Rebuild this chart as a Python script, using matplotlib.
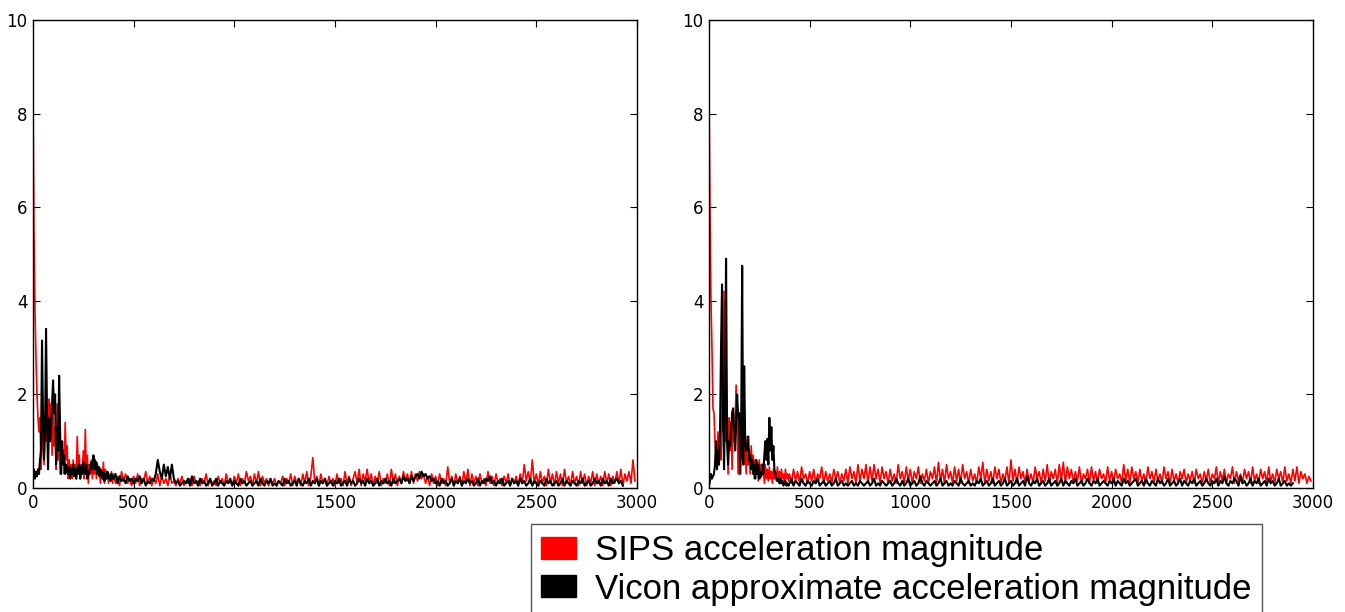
import numpy as np
import matplotlib
matplotlib.use('Agg')
import matplotlib.pyplot as plt
from matplotlib.patches import Patch

# samples 0..395 every 5, then every 10 from 400 on
head_step = 5
tail_step = 10
tail_start = 400

# left run
left_sips_head = [8.5, 5.5, 3.8, 2.8, 2.0, 1.5, 1.2, 1.5, 0.4, 0.9,
                  1.3, 0.5, 1.6, 1.0, 1.5, 0.8, 1.9, 1.2, 1.8, 0.7,
                  1.6, 0.9, 1.3, 0.4, 1.8, 0.6, 1.0, 0.3, 0.9, 0.5,
                  0.8, 0.3, 1.4, 0.6, 0.9, 0.2, 0.6, 0.3, 0.5, 0.2,
                  0.6, 0.3, 0.5, 0.2, 1.1, 0.4, 0.7, 0.2, 0.5, 0.3,
                  0.8, 0.2, 1.25, 0.4, 0.7, 0.1, 0.5, 0.3, 0.6, 0.2,
                  0.5, 0.3, 0.6, 0.2, 0.5, 0.3, 0.45, 0.1, 0.4, 0.2,
                  0.55, 0.1, 0.4, 0.2, 0.35, 0.1, 0.3, 0.15, 0.35, 0.1]
left_sips_tail = [0.3, 0.1, 0.25, 0.05, 0.35, 0.15, 0.3, 0.1, 0.2, 0.05,
                  0.25, 0.1, 0.3, 0.05, 0.2, 0.15, 0.35, 0.1, 0.25, 0.05,
                  0.2, 0.1, 0.3, 0.05, 0.25, 0.1, 0.2, 0.05, 0.3, 0.1,
                  0.15, 0.05, 0.2, 0.1, 0.25, 0.05, 0.15, 0.1, 0.2, 0.05,
                  0.25, 0.1, 0.15, 0.05, 0.2, 0.1, 0.3, 0.05, 0.2, 0.1,
                  0.15, 0.05, 0.25, 0.1, 0.2, 0.05, 0.3, 0.1, 0.15, 0.05,
                  0.25, 0.1, 0.3, 0.05, 0.2, 0.1, 0.35, 0.15, 0.25, 0.05,
                  0.3, 0.1, 0.35, 0.05, 0.25, 0.1, 0.2, 0.05, 0.15, 0.1,
                  0.2, 0.05, 0.15, 0.1, 0.25, 0.05, 0.2, 0.1, 0.3, 0.05,
                  0.25, 0.1, 0.2, 0.05, 0.3, 0.1, 0.35, 0.05, 0.25, 0.65,
                  0.1, 0.25, 0.05, 0.3, 0.1, 0.2, 0.05, 0.25, 0.1, 0.2,
                  0.05, 0.3, 0.1, 0.2, 0.05, 0.35, 0.1, 0.25, 0.05, 0.2,
                  0.35, 0.1, 0.4, 0.05, 0.3, 0.15, 0.4, 0.1, 0.3, 0.05,
                  0.25, 0.1, 0.35, 0.05, 0.2, 0.1, 0.3, 0.05, 0.4, 0.1,
                  0.3, 0.05, 0.25, 0.1, 0.35, 0.15, 0.3, 0.1, 0.35, 0.1,
                  0.3, 0.15, 0.35, 0.2, 0.3, 0.1, 0.25, 0.05, 0.3, 0.1,
                  0.25, 0.05, 0.3, 0.1, 0.2, 0.05, 0.45, 0.1, 0.25, 0.05,
                  0.3, 0.1, 0.25, 0.05, 0.35, 0.1, 0.4, 0.05, 0.3, 0.1,
                  0.25, 0.05, 0.3, 0.1, 0.2, 0.05, 0.35, 0.1, 0.25, 0.05,
                  0.3, 0.1, 0.2, 0.05, 0.25, 0.1, 0.3, 0.05, 0.2, 0.1,
                  0.25, 0.05, 0.3, 0.1, 0.5, 0.15, 0.35, 0.1, 0.6, 0.1,
                  0.3, 0.05, 0.35, 0.1, 0.25, 0.05, 0.4, 0.1, 0.3, 0.05,
                  0.35, 0.1, 0.3, 0.05, 0.4, 0.1, 0.25, 0.05, 0.35, 0.1,
                  0.25, 0.05, 0.35, 0.1, 0.3, 0.05, 0.25, 0.1, 0.35, 0.05,
                  0.3, 0.1, 0.25, 0.05, 0.35, 0.1, 0.3, 0.05, 0.25, 0.1,
                  0.35, 0.1, 0.4, 0.05, 0.3, 0.15, 0.35, 0.1, 0.6, 0.15]
left_vicon_head = [0.3, 0.4, 0.2, 0.35, 0.25, 0.4, 0.3, 0.6, 0.8, 3.15,
                   1.5, 0.6, 1.2, 3.4, 1.5, 0.4, 1.5, 1.0, 1.3, 1.8,
                   2.3, 1.6, 2.0, 0.5, 1.3, 0.8, 2.4, 1.2, 0.3, 1.0,
                   0.5, 0.7, 0.3, 0.5, 0.35, 0.3, 0.45, 0.2, 0.4, 0.3,
                   0.5, 0.25, 0.4, 0.2, 0.45, 0.3, 0.5, 0.2, 0.45, 0.3,
                   0.55, 0.35, 0.3, 0.5, 0.2, 0.35, 0.3, 0.5, 0.55, 0.4,
                   0.7, 0.6, 0.4, 0.55, 0.3, 0.45, 0.25, 0.4, 0.3, 0.2,
                   0.35, 0.15, 0.3, 0.2, 0.35, 0.2, 0.25, 0.15, 0.3, 0.2]
left_vicon_tail = [0.2, 0.3, 0.1, 0.25, 0.15, 0.2, 0.1, 0.25, 0.15, 0.2,
                   0.1, 0.2, 0.15, 0.25, 0.1, 0.2, 0.05, 0.15, 0.1, 0.2,
                   0.15, 0.3, 0.6, 0.35, 0.2, 0.5, 0.25, 0.45, 0.2, 0.5,
                   0.2, 0.1, 0.15, 0.05, 0.1, 0.15, 0.1, 0.2, 0.05, 0.25,
                   0.1, 0.15, 0.05, 0.2, 0.1, 0.15, 0.05, 0.1, 0.2, 0.05,
                   0.1, 0.2, 0.05, 0.15, 0.1, 0.05, 0.15, 0.1, 0.2, 0.05,
                   0.15, 0.1, 0.05, 0.2, 0.1, 0.15, 0.05, 0.1, 0.15, 0.05,
                   0.1, 0.15, 0.05, 0.2, 0.1, 0.05, 0.15, 0.1, 0.2, 0.05,
                   0.1, 0.05, 0.15, 0.1, 0.05, 0.2, 0.1, 0.15, 0.05, 0.1,
                   0.15, 0.05, 0.2, 0.1, 0.05, 0.15, 0.1, 0.2, 0.05, 0.15,
                   0.1, 0.2, 0.05, 0.15, 0.1, 0.2, 0.05, 0.1, 0.15, 0.05,
                   0.15, 0.1, 0.2, 0.05, 0.1, 0.15, 0.05, 0.2, 0.1, 0.15,
                   0.05, 0.1, 0.2, 0.1, 0.15, 0.05, 0.2, 0.1, 0.15, 0.05,
                   0.1, 0.2, 0.05, 0.15, 0.1, 0.2, 0.1, 0.15, 0.05, 0.2,
                   0.1, 0.15, 0.2, 0.1, 0.25, 0.15, 0.2, 0.1, 0.25, 0.15,
                   0.25, 0.3, 0.2, 0.35, 0.25, 0.3, 0.2, 0.25, 0.15, 0.2,
                   0.1, 0.15, 0.05, 0.2, 0.1, 0.15, 0.05, 0.1, 0.2, 0.05,
                   0.15, 0.1, 0.2, 0.05, 0.15, 0.1, 0.2, 0.1, 0.15, 0.05,
                   0.1, 0.2, 0.05, 0.15, 0.1, 0.2, 0.15, 0.25, 0.1, 0.15,
                   0.05, 0.15, 0.1, 0.2, 0.05, 0.1, 0.15, 0.05, 0.2, 0.1,
                   0.15, 0.05, 0.2, 0.1, 0.15, 0.05, 0.1, 0.2, 0.05, 0.15,
                   0.1, 0.05, 0.15, 0.1, 0.05, 0.2, 0.1, 0.15, 0.05, 0.1,
                   0.15, 0.05, 0.1, 0.2, 0.05, 0.15, 0.1, 0.05, 0.15, 0.1,
                   0.05, 0.15, 0.1, 0.2, 0.05, 0.1, 0.15, 0.05, 0.1, 0.2,
                   0.1, 0.15, 0.05, 0.2, 0.1, 0.15, 0.05, 0.2, 0.1, 0.15,
                   0.2, 0.1, 0.15, 0.05]

# right run
right_sips_head = [8.5, 6.0, 4.0, 3.0, 1.7, 1.6, 1.0, 0.7, 0.5, 1.2,
                   0.5, 1.3, 0.6, 2.3, 1.2, 4.2, 1.0, 2.5, 1.5, 0.3,
                   1.5, 0.8, 1.4, 0.4, 1.7, 1.0, 1.4, 2.2, 1.5, 0.3,
                   1.6, 0.4, 1.0, 0.6, 1.0, 0.5, 0.9, 0.3, 1.1, 0.5,
                   0.8, 0.3, 0.9, 0.4, 0.7, 0.2, 0.6, 0.3, 0.55, 0.15,
                   0.6, 0.2, 0.5, 0.3, 0.45, 0.1, 0.5, 0.2, 0.4, 0.15,
                   0.45, 0.2, 0.35, 0.1, 0.4, 0.2, 0.35, 0.15, 0.45, 0.2,
                   0.35, 0.15, 0.4, 0.2, 0.3, 0.15, 0.4, 0.2, 0.3, 0.15]
right_sips_tail = [0.3, 0.1, 0.4, 0.15, 0.35, 0.1, 0.45, 0.2, 0.3, 0.1,
                   0.35, 0.15, 0.4, 0.1, 0.3, 0.2, 0.45, 0.1, 0.35, 0.15,
                   0.3, 0.1, 0.4, 0.2, 0.35, 0.1, 0.3, 0.15, 0.4, 0.1,
                   0.45, 0.2, 0.35, 0.1, 0.5, 0.15, 0.4, 0.2, 0.5, 0.1,
                   0.45, 0.15, 0.5, 0.2, 0.4, 0.1, 0.45, 0.2, 0.35, 0.1,
                   0.4, 0.15, 0.3, 0.1, 0.5, 0.2, 0.35, 0.1, 0.45, 0.15,
                   0.4, 0.1, 0.35, 0.2, 0.45, 0.1, 0.3, 0.15, 0.4, 0.1,
                   0.35, 0.2, 0.45, 0.1, 0.55, 0.15, 0.4, 0.1, 0.5, 0.2,
                   0.35, 0.1, 0.45, 0.15, 0.4, 0.1, 0.5, 0.2, 0.35, 0.1,
                   0.4, 0.15, 0.3, 0.1, 0.45, 0.2, 0.55, 0.1, 0.4, 0.15,
                   0.35, 0.1, 0.45, 0.2, 0.4, 0.1, 0.3, 0.15, 0.45, 0.1,
                   0.6, 0.15, 0.4, 0.1, 0.45, 0.2, 0.35, 0.1, 0.4, 0.15,
                   0.3, 0.1, 0.45, 0.2, 0.35, 0.1, 0.4, 0.15, 0.5, 0.1,
                   0.35, 0.2, 0.4, 0.1, 0.5, 0.15, 0.55, 0.1, 0.45, 0.2,
                   0.4, 0.1, 0.35, 0.15, 0.45, 0.1, 0.3, 0.2, 0.4, 0.1,
                   0.45, 0.15, 0.35, 0.1, 0.4, 0.2, 0.3, 0.1, 0.45, 0.15,
                   0.35, 0.1, 0.4, 0.2, 0.3, 0.1, 0.5, 0.15, 0.4, 0.1,
                   0.45, 0.2, 0.35, 0.1, 0.4, 0.15, 0.3, 0.1, 0.45, 0.2,
                   0.35, 0.1, 0.4, 0.15, 0.3, 0.1, 0.45, 0.2, 0.35, 0.1,
                   0.4, 0.15, 0.3, 0.1, 0.35, 0.2, 0.4, 0.1, 0.3, 0.15,
                   0.35, 0.1, 0.4, 0.2, 0.3, 0.1, 0.35, 0.15, 0.4, 0.1,
                   0.3, 0.2, 0.45, 0.1, 0.35, 0.15, 0.4, 0.1, 0.3, 0.2,
                   0.45, 0.1, 0.35, 0.15, 0.3, 0.1, 0.4, 0.2, 0.35, 0.1,
                   0.45, 0.15, 0.3, 0.1, 0.4, 0.2, 0.35, 0.1, 0.45, 0.15,
                   0.3, 0.1, 0.4, 0.2, 0.35, 0.1, 0.45, 0.15, 0.3, 0.1,
                   0.4, 0.15, 0.45, 0.1, 0.35, 0.2, 0.3, 0.1, 0.25, 0.15]
right_vicon_head = [0.05, 0.15, 0.3, 0.2, 0.25, 0.3, 0.5, 1.0, 0.4, 0.8,
                    0.5, 1.2, 3.0, 4.35, 1.5, 0.4, 2.0, 4.9, 1.0, 0.5,
                    1.0, 0.9, 1.2, 1.6, 1.7, 1.2, 0.8, 1.4, 2.0, 1.5,
                    1.6, 0.3, 1.2, 4.75, 0.5, 2.6, 1.0, 0.8, 0.9, 1.1,
                    0.6, 0.7, 0.4, 0.6, 0.3, 0.5, 0.2, 0.6, 0.3, 0.5,
                    0.2, 0.35, 0.25, 0.5, 0.3, 0.7, 1.0, 0.6, 1.05, 0.5,
                    1.5, 0.8, 1.3, 0.6, 0.9, 0.4, 0.3, 0.2, 0.15, 0.2,
                    0.1, 0.2, 0.1, 0.15, 0.05, 0.1, 0.15, 0.05, 0.1, 0.05]
right_vicon_tail = [0.1, 0.2, 0.05, 0.15, 0.1, 0.05, 0.2, 0.1, 0.05, 0.15,
                    0.1, 0.05, 0.15, 0.1, 0.2, 0.05, 0.1, 0.15, 0.05, 0.1,
                    0.15, 0.05, 0.1, 0.2, 0.05, 0.1, 0.15, 0.05, 0.1, 0.05,
                    0.1, 0.15, 0.05, 0.1, 0.05, 0.15, 0.1, 0.05, 0.1, 0.15,
                    0.05, 0.1, 0.2, 0.05, 0.1, 0.05, 0.15, 0.1, 0.05, 0.1,
                    0.15, 0.05, 0.1, 0.2, 0.1, 0.05, 0.15, 0.05, 0.1, 0.2,
                    0.05, 0.1, 0.15, 0.05, 0.1, 0.25, 0.1, 0.05, 0.15, 0.1,
                    0.05, 0.1, 0.15, 0.05, 0.1, 0.2, 0.05, 0.1, 0.15, 0.05,
                    0.1, 0.05, 0.15, 0.1, 0.05, 0.2, 0.1, 0.05, 0.1, 0.15,
                    0.05, 0.1, 0.05, 0.15, 0.1, 0.2, 0.05, 0.1, 0.15, 0.05,
                    0.1, 0.2, 0.05, 0.1, 0.15, 0.05, 0.1, 0.2, 0.05, 0.1,
                    0.15, 0.05, 0.1, 0.2, 0.05, 0.1, 0.15, 0.05, 0.25, 0.1,
                    0.05, 0.15, 0.1, 0.2, 0.05, 0.1, 0.15, 0.05, 0.1, 0.2,
                    0.05, 0.1, 0.15, 0.05, 0.1, 0.2, 0.05, 0.15, 0.1, 0.05,
                    0.15, 0.1, 0.2, 0.05, 0.1, 0.15, 0.05, 0.1, 0.2, 0.1,
                    0.05, 0.15, 0.1, 0.2, 0.05, 0.1, 0.15, 0.1, 0.05, 0.15,
                    0.1, 0.2, 0.05, 0.15, 0.1, 0.05, 0.2, 0.1, 0.15, 0.05,
                    0.1, 0.15, 0.2, 0.05, 0.1, 0.15, 0.05, 0.2, 0.1, 0.05,
                    0.15, 0.1, 0.05, 0.2, 0.1, 0.15, 0.05, 0.1, 0.2, 0.05,
                    0.1, 0.15, 0.05, 0.1, 0.2, 0.05, 0.15, 0.1, 0.05, 0.15,
                    0.1, 0.2, 0.05, 0.1, 0.15, 0.05, 0.1, 0.2, 0.1, 0.05,
                    0.15, 0.1, 0.2, 0.05, 0.15, 0.1, 0.25, 0.1, 0.05, 0.15,
                    0.1, 0.2, 0.15, 0.05, 0.25, 0.1, 0.15, 0.05, 0.1, 0.2,
                    0.05, 0.15, 0.1, 0.2, 0.05, 0.1, 0.15, 0.05, 0.2, 0.1,
                    0.15, 0.05, 0.1, 0.2, 0.05, 0.1, 0.15, 0.05, 0.1, 0.05,
                    0.1]

legend_labels = ['SIPS acceleration magnitude',
                 'Vicon approximate acceleration magnitude']
x_ticks = [0, 500, 1000, 1500, 2000, 2500, 3000]
y_ticks = [0, 2, 4, 6, 8, 10]


def series(head, tail):
    x = np.concatenate([np.arange(len(head)) * head_step,
                        tail_start + np.arange(len(tail)) * tail_step])
    return x, np.array(head + tail)


fig = plt.figure(figsize=(13.45, 6.12), dpi=100)
ax1 = fig.add_axes([0.0245, 0.2026, 0.4491, 0.7647])
ax2 = fig.add_axes([0.5271, 0.2026, 0.4491, 0.7647])

runs = [(ax1, left_sips_head, left_sips_tail, left_vicon_head, left_vicon_tail),
        (ax2, right_sips_head, right_sips_tail, right_vicon_head, right_vicon_tail)]

for ax, sh, st, vh, vt in runs:
    xs, ys = series(sh, st)
    xv, yv = series(vh, vt)
    ax.plot(xs, ys, color='red', lw=1.2)
    ax.plot(xv, yv, color='black', lw=1.5)
    ax.set_xlim(0, 3000)
    ax.set_ylim(0, 10)
    ax.set_xticks(x_ticks)
    ax.set_yticks(y_ticks)
    ax.tick_params(direction='in', top=True, right=True, length=5,
                   labelsize=12, pad=4)
    for s in ax.spines.values():
        s.set_linewidth(1.0)

handles = [Patch(facecolor='red', edgecolor='red'),
           Patch(facecolor='black', edgecolor='black')]
leg = fig.legend(handles, legend_labels, loc='upper left',
                 bbox_to_anchor=(531 / 1345, 1 - 524 / 612),
                 prop={'family': 'Liberation Sans', 'size': 25},
                 fancybox=False, framealpha=1, edgecolor='#555555',
                 handlelength=1.0, handleheight=0.6, handletextpad=0.55,
                 borderpad=0.3, labelspacing=0.15, borderaxespad=0)
leg.get_frame().set_linewidth(1.0)

fig.savefig('out.png', dpi=100)
